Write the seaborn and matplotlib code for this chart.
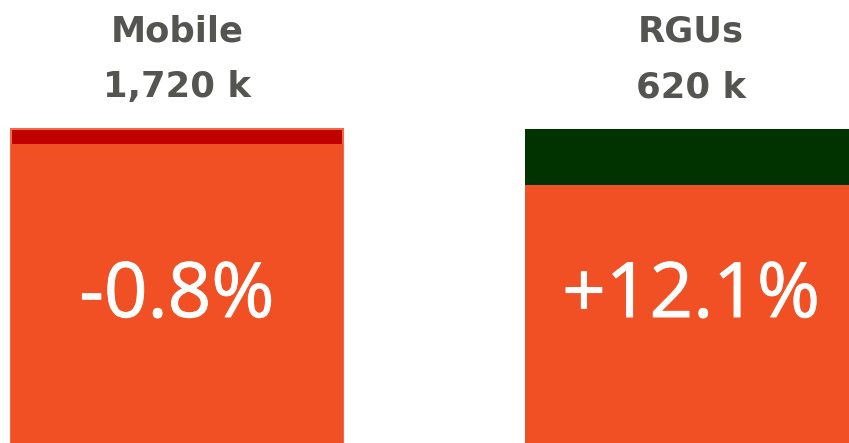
import matplotlib
matplotlib.use("Agg")
import matplotlib.pyplot as plt
import matplotlib.patheffects as pe
import seaborn as sns

# data
kategori = ["Mobile", "RGUs"]
total_label = ["1,720 k", "620 k"]
perubahan = ["-0.8%", "+12.1%"]
tinggi_dasar = [95.2, 82.2]
tinggi_atas = [4.8, 17.8]

warna_oranye = "#F05023"
warna_atas = ["#C00000", "#003300"]
warna_judul = "#545450"

sns.set_theme(style="white")
plt.rcParams['font.family'] = ['DejaVu Sans']

fig = plt.figure(figsize=(8.49, 4.43), dpi=100)
ax = fig.add_axes([0, 0, 1, 1])

total = [a + b for a, b in zip(tinggi_dasar, tinggi_atas)]
lebar = 0.646

# bar penuh (bagian atas), lalu bar dasar di atasnya
sns.barplot(x=kategori, y=total, hue=kategori, palette=warna_atas,
            legend=False, width=lebar, ax=ax, linewidth=0, saturation=1)
ax.patches[0].set_edgecolor("#F26A45")
ax.patches[0].set_linewidth(1.5)
sns.barplot(x=kategori, y=tinggi_dasar, color=warna_oranye, width=lebar,
            ax=ax, linewidth=0, saturation=1)

ax.set_xlim(-0.344, 1.307)
ax.set_ylim(0, 100 * 443 / 314)
ax.axis('off')

trans = ax.get_xaxis_transform()
for i in range(len(kategori)):
    ax.text(i, 1 - 41 / 443, kategori[i], transform=trans, ha='center',
            va='baseline', fontsize=25.5, fontweight='bold', color=warna_judul)
    ax.text(i, 1 - 97 / 443, total_label[i], transform=trans, ha='center',
            va='baseline', fontsize=25.5, fontweight='bold', color=warna_judul)
    ax.text(i, 1 - 317 / 443, perubahan[i], transform=trans, ha='center',
            va='baseline', fontsize=55, color='white',
            family=['Open Sans', 'DejaVu Sans'],
            path_effects=[pe.withStroke(linewidth=0.7, foreground='white')])

fig.savefig("out.png", dpi=100)
